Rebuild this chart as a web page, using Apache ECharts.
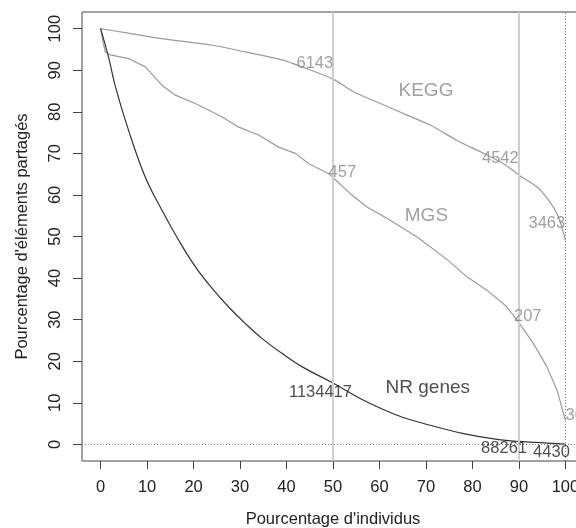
<!DOCTYPE html>
<html>
<head>
<meta charset="utf-8">
<script src="https://cdn.jsdelivr.net/npm/echarts@6/dist/echarts.min.js"></script>
<style>
html,body{margin:0;padding:0;background:#fff;}
#chart{width:576px;height:528px;}
</style>
</head>
<body>
<div id="chart"></div>
<script>
// ---- data ----
var ticks = [0, 10, 20, 30, 40, 50, 60, 70, 80, 90, 100];

var keggX = [0, 6.0, 13.2, 24.0, 31.1, 39.0, 43.3, 50.1, 54.4, 60.2, 65.9, 70.9, 76.7, 82.4, 86.7, 90.1, 93.9, 96.4, 98.2, 99.2, 100];
var keggY = [100, 98.9, 97.6, 96.0, 94.4, 92.5, 90.8, 87.8, 84.8, 82.0, 79.2, 76.8, 73.1, 70.0, 67.5, 64.7, 61.9, 58.7, 55.5, 52.3, 49.1];

var mgsX = [0, 0.5, 1.0, 2.1, 6.0, 9.6, 13.2, 16.1, 20.4, 26.1, 29.7, 34.0, 38.3, 41.9, 44.8, 49.1, 50.3, 53.7, 57.3, 62.3, 68.1, 74.5, 78.8, 83.1, 87.4, 90.1, 93.1, 96.0, 98.2, 99.2, 100];
var mgsY = [100, 97.0, 94.4, 93.7, 92.8, 90.8, 86.4, 84.0, 82.0, 78.8, 76.3, 74.4, 71.5, 70.0, 67.5, 65.1, 63.9, 60.3, 57.1, 53.9, 49.9, 44.5, 40.3, 37.1, 33.1, 29.1, 24.3, 18.7, 13.1, 9.0, 5.8];

var nrX = [0, 1.7, 3.2, 6.0, 9.6, 13.2, 16.8, 20.4, 24.0, 27.5, 31.1, 34.7, 39.0, 43.3, 50.1, 56.6, 63.8, 70.9, 78.1, 85.3, 90.1, 100];
var nrY = [100, 93.2, 86.0, 75.6, 64.3, 56.3, 49.1, 42.7, 37.5, 33.1, 29.1, 25.5, 21.9, 18.7, 14.7, 10.6, 7.0, 4.6, 2.6, 1.2, 0.7, 0.07];

var nameText = ['KEGG', 'MGS', 'NR genes'];
var nameX = [70.0, 70.1, 70.4];
var nameY = [85.0, 54.9, 13.7];
var nameDark = [false, false, true];

var numText = ['6143', '4542', '3463', '457', '207', '36', '1134417', '88261', '4430'];
var numX = [46.1, 86.0, 96.0, 52.0, 91.9, 100.0, 47.3, 86.8, 97.0];
var numY = [91.6, 68.7, 53.2, 65.3, 30.7, 6.9, 12.6, -1.0, -2.0];
var numDark = [false, false, false, false, false, false, true, true, true];
var numLeft = [false, false, false, false, false, true, false, false, false];

var refX = [50, 90];

// ---- build ----
function pairs(xs, ys) { return xs.map(function (x, i) { return [x, ys[i]]; }); }
var GRAY_LINE = '#9a9a9a', GRAY_TEXT = '#888888', DARK = '#222222';
var FONT = 'Liberation Sans, Arial, sans-serif';

var nameData = nameText.map(function (t, i) {
  return { value: [nameX[i], nameY[i]], name: t,
    label: { color: nameDark[i] ? DARK : GRAY_TEXT } };
});
var numData = numText.map(function (t, i) {
  var lab = { color: numDark[i] ? DARK : GRAY_TEXT };
  if (numLeft[i]) { lab.align = 'left'; }
  return { value: [numX[i], numY[i]], name: t, label: lab };
});

var chart = echarts.init(document.getElementById('chart'), null, { renderer: 'canvas' });
chart.setOption({
  animation: false,
  backgroundColor: '#fff',
  textStyle: { fontFamily: FONT },
  grid: { left: 82, top: 12, width: 502, height: 449, show: true,
          containLabel: false, outerBoundsMode: 'none',
          borderColor: '#444', borderWidth: 1, backgroundColor: 'transparent' },
  xAxis: {
    type: 'value', min: -4, max: 104,
    name: "Pourcentage d'individus", nameLocation: 'middle', nameGap: 50,
    nameTextStyle: { fontSize: 16.5, color: '#222', fontFamily: FONT },
    axisLine: { show: false, onZero: false },
    axisTick: { show: true, customValues: ticks, length: 8, lineStyle: { color: '#444' } },
    axisLabel: { customValues: ticks, margin: 18, fontSize: 16.5, color: '#222', fontFamily: FONT },
    splitLine: { show: false }
  },
  yAxis: {
    type: 'value', min: -4, max: 104,
    name: "Pourcentage d'éléments partagés", nameLocation: 'middle', nameGap: 51,
    nameTextStyle: { fontSize: 16.5, color: '#222', fontFamily: FONT },
    axisLine: { show: false, onZero: false },
    axisTick: { show: true, customValues: ticks, length: 9, lineStyle: { color: '#444' } },
    axisLabel: { customValues: ticks, margin: 18, rotate: 90, fontSize: 16.5, color: '#222', fontFamily: FONT },
    splitLine: { show: false }
  },
  series: [
    {
      type: 'line', data: [], silent: true, z: 1,
      markLine: {
        silent: true, symbol: 'none', label: { show: false },
        data: refX.map(function (v) { return { xAxis: v, lineStyle: { color: '#cfcfcf', width: 2, type: 'solid' } }; })
          .concat([
            { xAxis: 100, lineStyle: { color: '#777', width: 1, type: [1, 2] } },
            { yAxis: 0, lineStyle: { color: '#777', width: 1, type: [1, 2] } }
          ])
      }
    },
    { type: 'line', name: 'KEGG', data: pairs(keggX, keggY), showSymbol: false, symbol: 'none',
      smooth: 0.3,
      lineStyle: { color: GRAY_LINE, width: 1.2 }, z: 3 },
    { type: 'line', name: 'MGS', data: pairs(mgsX, mgsY), showSymbol: false, symbol: 'none',
      lineStyle: { color: GRAY_LINE, width: 1.2 }, z: 3 },
    { type: 'line', name: 'NR genes', data: pairs(nrX, nrY), showSymbol: false, symbol: 'none',
      smooth: 0.4,
      lineStyle: { color: '#333', width: 1.2 }, z: 3 },
    { type: 'scatter', data: nameData, symbolSize: 0, silent: true, z: 5,
      label: { show: true, position: 'inside', formatter: '{b}', fontSize: 19, fontFamily: FONT } },
    { type: 'scatter', data: numData, symbolSize: 0, silent: true, z: 5,
      label: { show: true, position: 'inside', formatter: '{b}', fontSize: 16.5, fontFamily: FONT } }
  ]
});
</script>
</body>
</html>
